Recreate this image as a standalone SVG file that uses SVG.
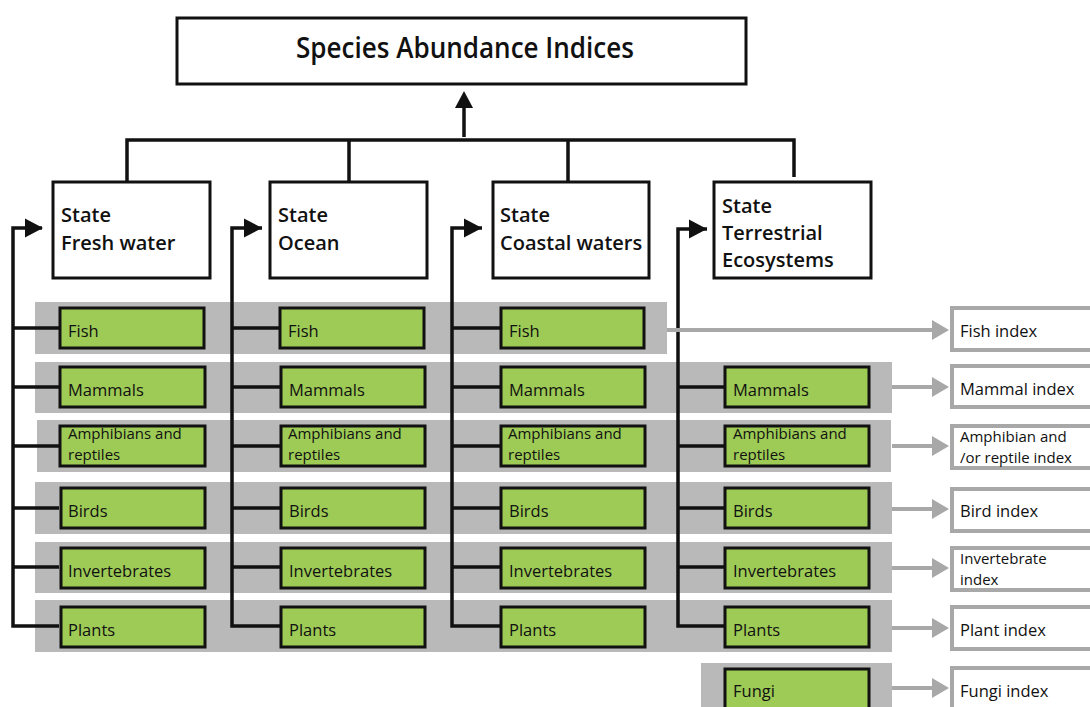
<svg xmlns="http://www.w3.org/2000/svg" width="1090" height="707" viewBox="0 0 1090 707">
<style>
.box{fill:#fff;stroke:#111;stroke-width:3}
.band{fill:#b9b9b9}
.g{fill:#9ecb56;stroke:#111;stroke-width:3}
.idx{fill:#fff;stroke:#a8a8a8;stroke-width:4}
.ln{fill:none;stroke:#111;stroke-width:3.5}
.gl{fill:none;stroke:#a8a8a8;stroke-width:4}
.ah{fill:#111}
.gh{fill:#a8a8a8}
text{font-family:"Open Sans","Noto Sans","Liberation Sans",sans-serif;fill:#111}
.t{font-size:29px;font-weight:600}
.s{font-size:20px;font-weight:600}
.l{font-size:16.5px;font-weight:500}
.i{font-size:16.5px;font-weight:500}
.m{font-size:15px;font-weight:500}
</style>
<rect width="1090" height="707" fill="#fff"/>
<g id="bands">
<rect class="band" x="35" y="302" width="632" height="52"/>
<rect class="band" x="35" y="362" width="857" height="51"/>
<rect class="band" x="37" y="420" width="854" height="52"/>
<rect class="band" x="35" y="482" width="857" height="52"/>
<rect class="band" x="35" y="542" width="857" height="51"/>
<rect class="band" x="35" y="600" width="857" height="52"/>
<rect class="band" x="701" y="663" width="191" height="50"/>
</g>
<g id="connectors">
<path class="ln" d="M464,137 V105"/>
<polygon class="ah" points="464,91 455,108 473,108"/>
<path class="ln" d="M127,182 V140 H794 V177 M349,140 V182 M568,140 V182"/>
<path class="ln" d="M42,228 H13 V626 H59 M13,328 H59 M13,387 H59 M13,446 H59 M13,508 H59 M13,567 H59"/>
<polygon class="ah" points="43,228 25,218.5 25,237.5"/>
<path class="ln" d="M262,228 H232 V626 H280 M232,328 H280 M232,387 H280 M232,446 H280 M232,508 H280 M232,567 H280"/>
<polygon class="ah" points="262,228 244,218.5 244,237.5"/>
<path class="ln" d="M482,228 H452 V626 H501 M452,328 H501 M452,387 H501 M452,446 H501 M452,508 H501 M452,567 H501"/>
<polygon class="ah" points="482,228 464,218.5 464,237.5"/>
<path class="ln" d="M707,229 H678 V626 H725 M678,387 H725 M678,446 H725 M678,508 H725 M678,567 H725"/>
<polygon class="ah" points="707,229 689,219.5 689,238.5"/>
<path class="gl" d="M667,330 H934 M892,387 H934 M892,446 H934 M892,509 H934 M892,568 H934 M892,628 H934 M892,688 H934"/>
<polygon class="gh" points="949,330 932,320 932,340"/>
<polygon class="gh" points="949,387 932,377 932,397"/>
<polygon class="gh" points="949,446 932,436 932,456"/>
<polygon class="gh" points="949,509 932,499 932,519"/>
<polygon class="gh" points="949,568 932,558 932,578"/>
<polygon class="gh" points="949,628 932,618 932,638"/>
<polygon class="gh" points="949,688 932,678 932,698"/>
</g>
<g id="title">
<rect class="box" x="177" y="18" width="569" height="66"/>
<text class="t" x="465" y="58" text-anchor="middle" textLength="338" lengthAdjust="spacingAndGlyphs">Species Abundance Indices</text>
</g>
<g id="state-fresh">
<rect class="box" x="53" y="182" width="157" height="96"/>
<text class="s" x="61" y="222">State<tspan x="61" y="250">Fresh water</tspan></text>
</g>
<g id="state-ocean">
<rect class="box" x="270" y="182" width="157" height="96"/>
<text class="s" x="278" y="222">State<tspan x="278" y="250">Ocean</tspan></text>
</g>
<g id="state-coastal">
<rect class="box" x="493" y="182" width="156" height="96"/>
<text class="s" x="500" y="222">State<tspan x="500" y="250">Coastal waters</tspan></text>
</g>
<g id="state-terrestrial">
<rect class="box" x="714" y="182" width="157" height="96"/>
<text class="s" x="722" y="213">State<tspan x="722" y="240">Terrestrial</tspan><tspan x="722" y="267">Ecosystems</tspan></text>
</g>
<g id="c1-fish"><rect class="g" x="60" y="308" width="144" height="40"/><text class="l" x="68" y="337">Fish</text></g>
<g id="c1-mammals"><rect class="g" x="60" y="367" width="145" height="40"/><text class="l" x="68" y="396">Mammals</text></g>
<g id="c1-amph"><rect class="g" x="60" y="426" width="145" height="40"/><text class="m" x="68" y="439">Amphibians and<tspan x="68" y="460">reptiles</tspan></text></g>
<g id="c1-birds"><rect class="g" x="61" y="488" width="144" height="40"/><text class="l" x="68" y="517">Birds</text></g>
<g id="c1-inv"><rect class="g" x="61" y="548" width="144" height="40"/><text class="l" x="68" y="577">Invertebrates</text></g>
<g id="c1-plants"><rect class="g" x="61" y="607" width="144" height="40"/><text class="l" x="68" y="636">Plants</text></g>
<g id="c2-fish"><rect class="g" x="280" y="308" width="144" height="40"/><text class="l" x="288" y="337">Fish</text></g>
<g id="c2-mammals"><rect class="g" x="281" y="367" width="144" height="40"/><text class="l" x="289" y="396">Mammals</text></g>
<g id="c2-amph"><rect class="g" x="281" y="426" width="144" height="40"/><text class="m" x="288" y="439">Amphibians and<tspan x="288" y="460">reptiles</tspan></text></g>
<g id="c2-birds"><rect class="g" x="281" y="488" width="144" height="40"/><text class="l" x="289" y="517">Birds</text></g>
<g id="c2-inv"><rect class="g" x="281" y="548" width="144" height="40"/><text class="l" x="289" y="577">Invertebrates</text></g>
<g id="c2-plants"><rect class="g" x="281" y="607" width="144" height="40"/><text class="l" x="289" y="636">Plants</text></g>
<g id="c3-fish"><rect class="g" x="501" y="308" width="143" height="40"/><text class="l" x="509" y="337">Fish</text></g>
<g id="c3-mammals"><rect class="g" x="501" y="367" width="144" height="40"/><text class="l" x="509" y="396">Mammals</text></g>
<g id="c3-amph"><rect class="g" x="501" y="426" width="144" height="40"/><text class="m" x="508" y="439">Amphibians and<tspan x="508" y="460">reptiles</tspan></text></g>
<g id="c3-birds"><rect class="g" x="501" y="488" width="144" height="40"/><text class="l" x="509" y="517">Birds</text></g>
<g id="c3-inv"><rect class="g" x="501" y="548" width="144" height="40"/><text class="l" x="509" y="577">Invertebrates</text></g>
<g id="c3-plants"><rect class="g" x="501" y="607" width="144" height="40"/><text class="l" x="509" y="636">Plants</text></g>
<g id="c4-mammals"><rect class="g" x="725" y="367" width="144" height="40"/><text class="l" x="733" y="396">Mammals</text></g>
<g id="c4-amph"><rect class="g" x="725" y="426" width="144" height="40"/><text class="m" x="733" y="439">Amphibians and<tspan x="733" y="460">reptiles</tspan></text></g>
<g id="c4-birds"><rect class="g" x="725" y="488" width="144" height="40"/><text class="l" x="733" y="517">Birds</text></g>
<g id="c4-inv"><rect class="g" x="725" y="548" width="144" height="40"/><text class="l" x="733" y="577">Invertebrates</text></g>
<g id="c4-plants"><rect class="g" x="725" y="607" width="144" height="40"/><text class="l" x="733" y="636">Plants</text></g>
<g id="c4-fungi"><rect class="g" x="725" y="669" width="144" height="45"/><text class="l" x="733" y="697">Fungi</text></g>
<g id="idx-fish"><rect class="idx" x="952" y="308" width="145" height="42"/><text class="i" x="960" y="337">Fish index</text></g>
<g id="idx-mammal"><rect class="idx" x="952" y="366" width="145" height="41"/><text class="i" x="960" y="395">Mammal index</text></g>
<g id="idx-amph"><rect class="idx" x="952" y="426" width="145" height="42"/><text class="m" x="960" y="442">Amphibian and<tspan x="960" y="463">/or reptile index</tspan></text></g>
<g id="idx-bird"><rect class="idx" x="952" y="489" width="145" height="42"/><text class="i" x="960" y="517">Bird index</text></g>
<g id="idx-inv"><rect class="idx" x="952" y="548" width="145" height="42"/><text class="m" x="960" y="564">Invertebrate<tspan x="960" y="585">index</tspan></text></g>
<g id="idx-plant"><rect class="idx" x="952" y="607" width="145" height="42"/><text class="i" x="960" y="636">Plant index</text></g>
<g id="idx-fungi"><rect class="idx" x="952" y="668" width="145" height="45"/><text class="i" x="960" y="697">Fungi index</text></g>
</svg>
